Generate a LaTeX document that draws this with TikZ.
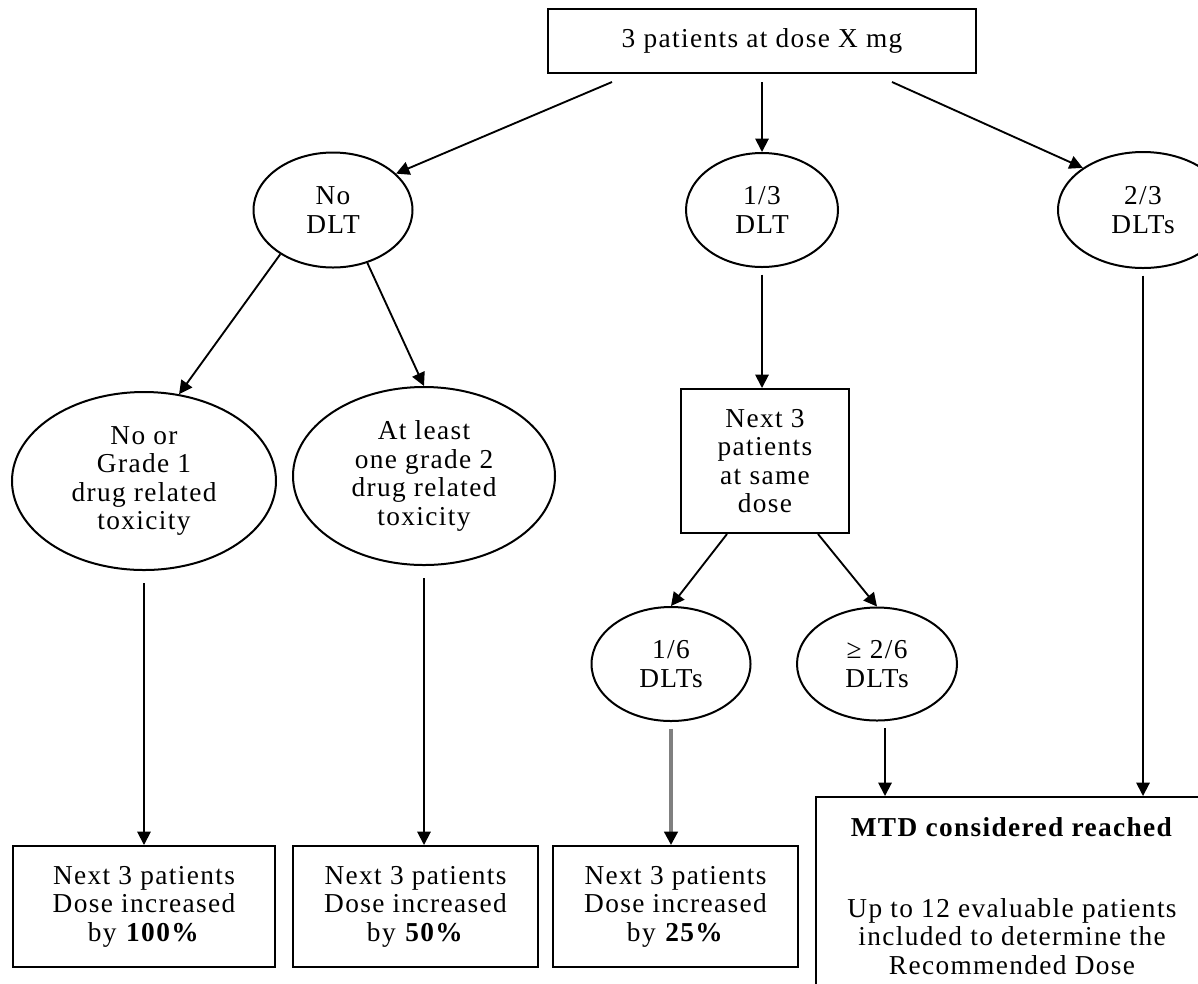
\documentclass[tikz,border=0pt]{standalone}
\usepackage{fontspec}
\setmainfont[LetterSpace=5]{Liberation Serif}
\usetikzlibrary{shapes,arrows,arrows.meta,calc}

\begin{document}
\begin{tikzpicture}[x=0.75pt, y=-0.75pt, auto]
				\tikzstyle{block} = [rectangle, draw, line width=1.5pt, fill=white, align=center, inner sep=0pt, font=\fontsize{20.5pt}{21.4pt}\selectfont]
				\tikzstyle{cloud} = [ellipse, draw, line width=1.5pt, fill=white, align=center, inner sep=0pt, font=\fontsize{20.5pt}{21.4pt}\selectfont]
				\tikzstyle{line} = [draw, line width=1.4pt, -{Triangle[length=10pt,width=10pt]}]
				\tikzstyle{greyline} = [draw=gray, line width=2.4pt, -{Triangle[length=10pt,width=10pt,color=black]}]
				
				\useasboundingbox (0,0) rectangle (1198,983);
				\clip (0,0) rectangle (1198,983);
				
				\node [block, minimum width=321pt, minimum height=48pt] (top) at (762,41) {3 patients at dose X mg};
				\node [cloud, minimum width=119.25pt, minimum height=86.25pt] (nodlt) at (333,210) {No\\DLT};
				\node [cloud, minimum width=114pt, minimum height=85.5pt] (onethird) at (762,210) {1/3\\DLT};
				\node [cloud, minimum width=127.5pt, minimum height=87pt] (twothird) at (1143,210) {2/3\\DLTs};
				\node [cloud, minimum width=198pt, minimum height=133.5pt] (grade1) at (144,481) {No or\\Grade 1\\drug related\\toxicity};
				\node [cloud, minimum width=196.5pt, minimum height=133.5pt] (grade2) at (424,476) {At least\\one grade 2\\drug related\\toxicity};
				\node [block, minimum width=126pt, minimum height=108pt] (nextsame) at (765,461) {Next 3\\patients\\at same\\dose};
				\node [cloud, minimum width=119.25pt, minimum height=85.5pt] (onesix) at (671,664) {1/6\\DLTs};
				\node [cloud, minimum width=120pt, minimum height=84.75pt] (twosix) at (877,664) {≥ 2/6\\DLTs};
				\node [block, minimum width=196.5pt, minimum height=90.75pt] (dose100) at (144,906.5) {Next 3 patients\\Dose increased\\by \textbf{100\%}};
				\node [block, minimum width=183.75pt, minimum height=90.75pt] (dose50) at (415.5,906.5) {Next 3 patients\\Dose increased\\by \textbf{50\%}};
				\node [block, minimum width=183.75pt, minimum height=90.75pt] (dose25) at (675.5,906.5) {Next 3 patients\\Dose increased\\by \textbf{25\%}};
				\node [block, minimum width=294pt, minimum height=148.5pt] (mtd) at (1012,896) {\textbf{MTD considered reached}\\[39pt]Up to 12 evaluable patients\\included to determine the\\Recommended Dose};
				\coordinate (twosixout) at ($(twosix.south)+(8,0)$);
				
				\path [line] ($(top.south)+(-150,8)$) -- (nodlt.30);
				\path [line, shorten <=6pt] (top.south) -- (onethird.north);
				\path [line] ($(top.south)+(130,8)$) -- (twothird.145);
				\path [line] (nodlt.220) -- (grade1.68);
				\path [line] (nodlt.-57) -- (grade2.north);
				\path [line, shorten <=9pt] (grade1.south) -- (grade1.south |- dose100.north);
				\path [line, shorten <=9pt] (grade2.south) -- (grade2.south |- dose50.north);
				\path [line, shorten <=5pt] (onethird.south) -- (onethird.south |- nextsame.north);
				\path [line] ($(nextsame.south)+(-38,0)$) -- (onesix.north);
				\path [line] ($(nextsame.south)+(53,0)$) -- (twosix.north);
				\path [greyline, shorten <=5pt] (onesix.south) -- (onesix.south |- dose25.north);
				\path [line, shorten <=5pt] (twosixout) -- (twosixout |- mtd.north);
				\path [line, shorten <=5pt] (twothird.south) -- (twothird.south |- mtd.north);
				
			\end{tikzpicture}
\end{document}
